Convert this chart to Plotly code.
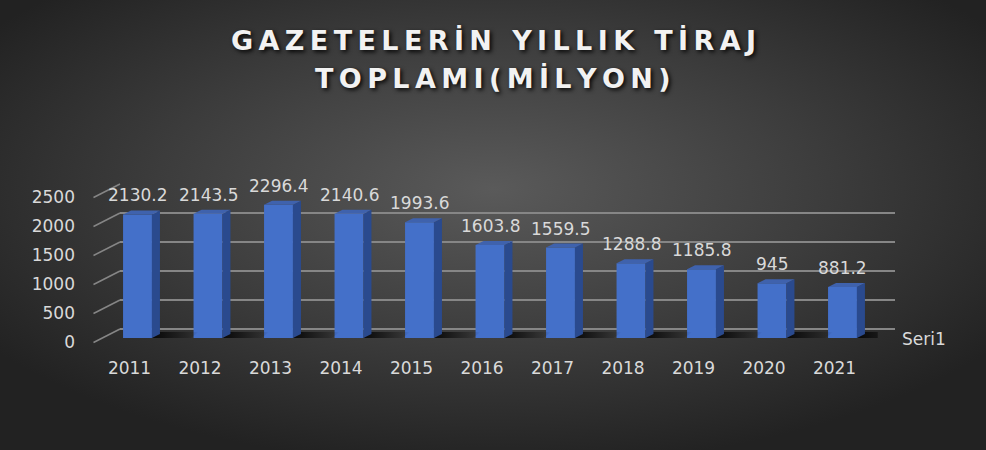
import base64
import plotly.graph_objects as go

# ---------------- data ----------------
years = ["2011", "2012", "2013", "2014", "2015", "2016", "2017", "2018", "2019", "2020", "2021"]
values = [2130.2, 2143.5, 2296.4, 2140.6, 1993.6, 1603.8, 1559.5, 1288.8, 1185.8, 945, 881.2]
y_ticks = [0, 500, 1000, 1500, 2000, 2500]
series_name = "Seri1"
title_lines = ["GAZETELERİN YILLIK TİRAJ", "TOPLAMI(MİLYON)"]

# ---------------- geometry (pixels) ----------------
W, H = 986, 450
def px(x):
    return x / W
def py(y):
    return 1 - y / H

Y_MAX = 2500
FRONT_X = (102.25, 877.75)   # category band of the front plane
FRONT_Y = (338, 193)         # pixel y of 0 and Y_MAX on the front plane
BACK_X = (120, 895)          # back wall
BACK_Y = (329, 184)
LABEL_Y = (342.5, 197.5)     # value labels on the left edge
LEFT_FRONT_X = 93.5

n = len(years)
x_idx = list(range(n))
BAR_W = 0.41
px_per_cat = (FRONT_X[1] - FRONT_X[0]) / n
units_per_px = Y_MAX / (FRONT_Y[0] - FRONT_Y[1])
DX = 8 / px_per_cat
DY = 4 * units_per_px

FONT = "DejaVu Sans"
TXT = "#d9d9d9"
GRID = "#868686"

# ---------------- background (radial gradient) ----------------
svg = f"""<svg xmlns='http://www.w3.org/2000/svg' width='{W}' height='{H}' viewBox='0 0 {W} {H}' preserveAspectRatio='none'>
<defs><radialGradient id='g' cx='50%' cy='42%' r='62%'>
<stop offset='0%' stop-color='#5a5a5a'/>
<stop offset='55%' stop-color='#3c3c3c'/>
<stop offset='100%' stop-color='#222222'/>
</radialGradient></defs>
<rect width='{W}' height='{H}' fill='url(#g)'/></svg>"""
bg_src = "data:image/svg+xml;base64," + base64.b64encode(svg.encode()).decode()

fig = go.Figure()

# invisible anchor traces so the helper subplots exist
fig.add_trace(go.Scatter(x=[0.5] * len(y_ticks), y=y_ticks, mode="markers",
                         marker=dict(opacity=0), hoverinfo="skip", showlegend=False,
                         xaxis="x", yaxis="y"))
fig.add_trace(go.Scatter(x=[0.5] * len(y_ticks), y=y_ticks, mode="markers",
                         marker=dict(opacity=0), hoverinfo="skip", showlegend=False,
                         xaxis="x3", yaxis="y3"))

# floor shadows
for i, v in zip(x_idx, values):
    r = i + BAR_W / 2
    sx = [r, r + 0.55, r + 0.55 + DX, r + DX, r]
    sy = [0, 0, DY * 1.5, DY * 1.5, 0]
    fig.add_trace(go.Scatter(
        x=sx, y=sy, fill="toself", mode="lines", line=dict(width=0),
        fillgradient=dict(type="horizontal",
                          colorscale=[[0, "rgba(0,0,0,0.85)"], [1, "rgba(0,0,0,0)"]]),
        hoverinfo="skip", showlegend=False, xaxis="x2", yaxis="y2"))

# side and top faces
side_x, side_y = [], []
top_x, top_y = [], []
for i, v in zip(x_idx, values):
    r = i + BAR_W / 2
    l = i - BAR_W / 2
    side_x += [r, r + DX, r + DX, r, r, None]
    side_y += [0, DY, v + DY, v, 0, None]
    top_x += [l, r, r + DX, l + DX, l, None]
    top_y += [v, v, v + DY, v + DY, v, None]

fig.add_trace(go.Scatter(x=side_x, y=side_y, fill="toself", mode="lines",
                         line=dict(width=0), fillcolor="#2a4a8e",
                         hoverinfo="skip", showlegend=False, xaxis="x2", yaxis="y2"))
fig.add_trace(go.Scatter(x=top_x, y=top_y, fill="toself", mode="lines",
                         line=dict(width=0), fillcolor="#3f62ad",
                         hoverinfo="skip", showlegend=False, xaxis="x2", yaxis="y2"))

# front faces
fig.add_trace(go.Bar(x=x_idx, y=values, width=BAR_W, name=series_name,
                     marker=dict(color="#4470c9", line=dict(width=0)),
                     showlegend=False, xaxis="x2", yaxis="y2"))

# data labels
annotations = []
for i, v in zip(x_idx, values):
    annotations.append(dict(x=i, y=v, xref="x2", yref="y2", text=f"{v:g}",
                            showarrow=False, yshift=19, yanchor="middle",
                            font=dict(family=FONT, size=17, color=TXT)))

# series (depth) axis label
annotations.append(dict(x=px(900), y=py(339), xref="paper", yref="paper",
                        text=series_name, showarrow=False, xanchor="left",
                        yanchor="middle", font=dict(family=FONT, size=17, color=TXT)))

# title
def spaced(s):
    return "\u2009".join(s)

for line, yc in zip(title_lines, (40, 78)):
    annotations.append(dict(x=0.5, y=py(yc), xref="paper", yref="paper",
                            text=spaced(line), showarrow=False,
                            xanchor="center", yanchor="middle",
                            font=dict(family="DejaVu Sans", size=27, color="#f2f2f2",
                                      weight=700,
                                      shadow="2px 2px 4px rgba(0,0,0,0.9)")))

# left wall diagonal grid segments
shapes = []
for t in y_ticks:
    yf = LABEL_Y[0] + (LABEL_Y[1] - LABEL_Y[0]) * t / Y_MAX
    yb = BACK_Y[0] + (BACK_Y[1] - BACK_Y[0]) * t / Y_MAX
    shapes.append(dict(type="line", xref="paper", yref="paper",
                       x0=px(LEFT_FRONT_X), y0=py(yf), x1=px(BACK_X[0]), y1=py(yb),
                       line=dict(color=GRID, width=1.5), layer="below"))

fig.update_layout(
    width=W, height=H, autosize=False,
    margin=dict(l=0, r=0, t=0, b=0, pad=0, autoexpand=False),
    paper_bgcolor="#333333",
    plot_bgcolor="rgba(0,0,0,0)",
    showlegend=False,
    images=[dict(source=bg_src, xref="paper", yref="paper", x=0, y=1,
                 sizex=1, sizey=1, sizing="stretch", layer="below")],
    annotations=annotations,
    shapes=shapes,
    # back wall grid
    xaxis=dict(domain=[px(BACK_X[0]), px(BACK_X[1])], range=[0, 1], visible=False,
               fixedrange=True, automargin=False),
    yaxis=dict(domain=[py(BACK_Y[0]), py(BACK_Y[1])], range=[0, Y_MAX],
               tickvals=y_ticks, showticklabels=False, showgrid=True,
               gridcolor=GRID, gridwidth=1.5, zeroline=True,
               zerolinecolor=GRID, zerolinewidth=1.5, showline=False,
               fixedrange=True, anchor="x", automargin=False),
    # front plane (bars)
    xaxis2=dict(domain=[px(FRONT_X[0]), px(FRONT_X[1])], range=[-0.5, n - 0.5],
                tickvals=x_idx, ticktext=years, showgrid=False, zeroline=False,
                showline=False, ticks="", ticklabelstandoff=18, ticklabelshift=-8,
                tickfont=dict(family=FONT, size=17, color=TXT),
                anchor="y2", fixedrange=True, automargin=False),
    yaxis2=dict(domain=[py(FRONT_Y[0]), py(FRONT_Y[1])], range=[0, Y_MAX],
                visible=False, anchor="x2", fixedrange=True, automargin=False),
    # value-axis labels
    xaxis3=dict(domain=[px(76), px(92)], range=[0, 1], visible=False,
                anchor="y3", fixedrange=True, automargin=False),
    yaxis3=dict(domain=[py(LABEL_Y[0]), py(LABEL_Y[1])], range=[0, Y_MAX],
                tickvals=y_ticks, showgrid=False, zeroline=False, showline=False,
                ticks="", tickfont=dict(family=FONT, size=17, color=TXT),
                anchor="x3", fixedrange=True, automargin=False),
)

fig.write_html(
    "out.html",
    config={"responsive": False, "displayModeBar": False},
    post_script="document.body.style.margin='0';",
)
